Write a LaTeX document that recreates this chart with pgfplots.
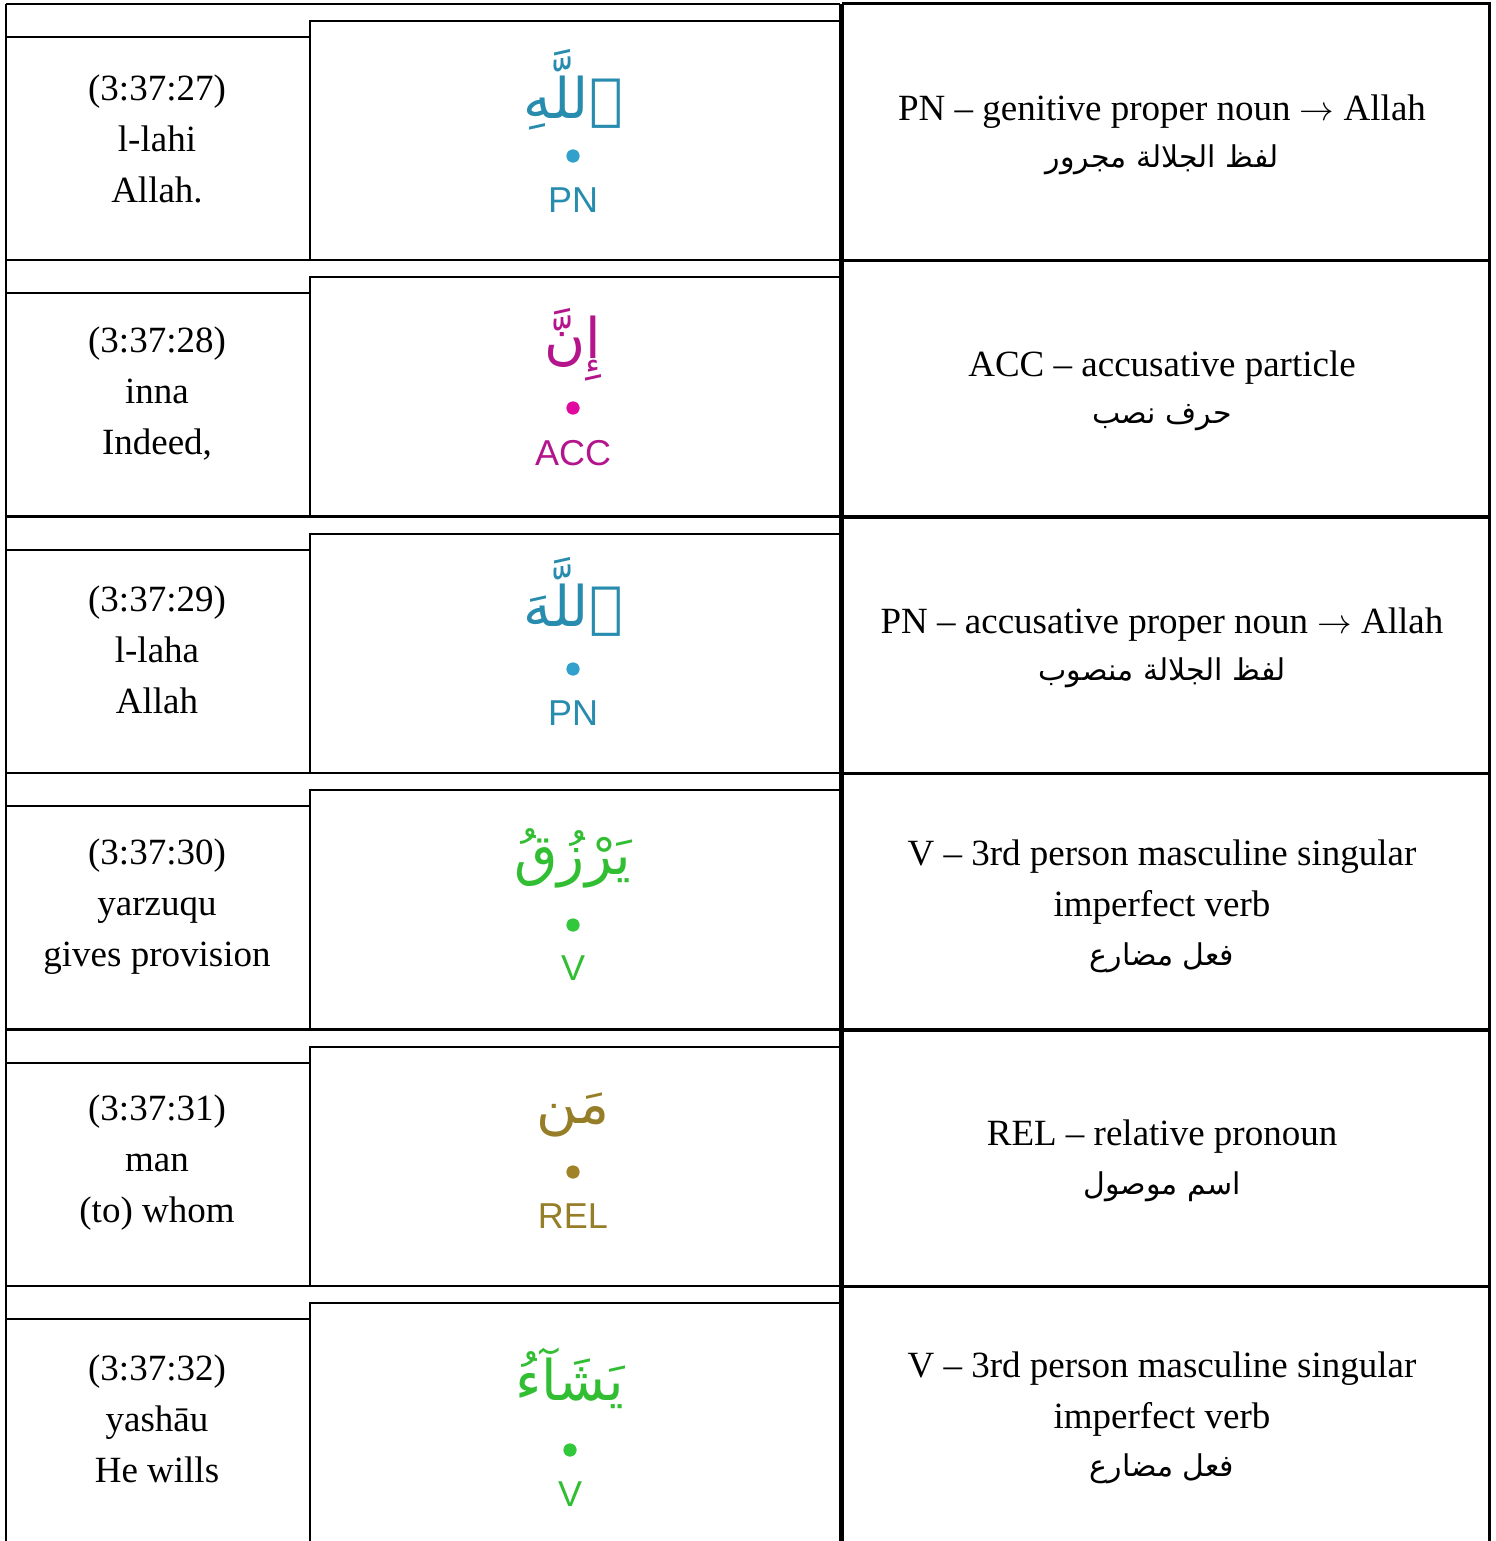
\documentclass[border=0pt]{standalone}
\usepackage{pgfplots}
\pgfplotsset{compat=1.18}
\usepackage{fontspec}
\setmainfont{Liberation Serif}
\newfontfamily\labelfont{Liberation Sans}
\newfontfamily\arabicfont[Script=Arabic]{DejaVu Sans}
\TeXXeTstate=1
\definecolor{pncol}{RGB}{40,140,175}
\definecolor{pndot}{RGB}{50,160,205}
\definecolor{acccol}{RGB}{180,20,140}
\definecolor{accdot}{RGB}{225,10,160}
\definecolor{vcol}{RGB}{50,190,50}
\definecolor{vdot}{RGB}{50,200,60}
\definecolor{relcol}{RGB}{150,125,40}
\definecolor{reldot}{RGB}{160,130,40}
\newcommand{\txt}{\fontsize{18.5}{25.5}\selectfont}
\newcommand{\lbl}{\labelfont\fontsize{18}{20}\selectfont}
\newcommand{\qw}{\arabicfont\fontsize{28}{30}\selectfont}
\newcommand{\ar}{\arabicfont\fontsize{15}{25.5}\selectfont}
\newcommand{\arr}{\ensuremath{\rightarrow}}
% one row: #1 = top y
\newcommand{\rowgrid}[1]{%
  \pgfmathsetmacro{\ta}{#1}\pgfmathsetmacro{\tb}{#1+256}%
  \pgfmathsetmacro{\tc}{#1+33}\pgfmathsetmacro{\td}{#1+17}%
  \edef\temp{\noexpand\addplot[black,line width=1pt] coordinates {(6,\ta) (840,\ta)};
  \noexpand\addplot[black,line width=1pt] coordinates {(6,\ta) (6,\tb) (840,\tb) (840,\ta)};
  \noexpand\addplot[black,line width=1pt] coordinates {(6,\tc) (310,\tc)};
  \noexpand\addplot[black,line width=1pt] coordinates {(310,\tb) (310,\td) (840,\td)};
  \noexpand\addplot[black,line width=1.5pt] coordinates {(842,\ta) (1489,\ta) (1489,\tb) (842,\tb) (842,\ta)};}%
  \temp}
\begin{document}
\begin{tikzpicture}
\begin{axis}[x=0.5pt,y=0.5pt,xmin=0,xmax=1495,ymin=0,ymax=1541,
  y dir=reverse,hide axis,scale only axis,clip=true]
\rowgrid{4}
\rowgrid{260}
\rowgrid{517}
\rowgrid{773}
\rowgrid{1030}
\rowgrid{1286}
% dots
\addplot[only marks,mark=*,mark size=3.1pt,color=pndot] coordinates {(573,156) (573,669)};
\addplot[only marks,mark=*,mark size=3.1pt,color=accdot] coordinates {(573,408)};
\addplot[only marks,mark=*,mark size=3.1pt,color=vdot] coordinates {(573,925) (570,1450)};
\addplot[only marks,mark=*,mark size=3.1pt,color=reldot] coordinates {(573,1172)};
% left column
\node[align=center,font=\txt] at (axis cs:157,139) {(3:37:27)\\l-lahi\\Allah.};
\node[align=center,font=\txt] at (axis cs:157,394) {(3:37:28)\\inna\\Indeed,};
\node[align=center,font=\txt] at (axis cs:157,650) {(3:37:29)\\l-laha\\Allah};
\node[align=center,font=\txt] at (axis cs:157,907) {(3:37:30)\\yarzuqu\\gives provision};
\node[align=center,font=\txt] at (axis cs:157,1163) {(3:37:31)\\man\\(to) whom};
\node[align=center,font=\txt] at (axis cs:157,1419) {(3:37:32)\\yashāu\\He wills};
% middle column words
\node[text=pncol,font=\qw,inner sep=0pt] at (axis cs:573,90) {\beginR ٱللَّهِ\endR};
\node[text=acccol,font=\qw,inner sep=0pt] at (axis cs:573,345) {\beginR إِنَّ\endR};
\node[text=pncol,font=\qw,inner sep=0pt] at (axis cs:573,597) {\beginR ٱللَّهَ\endR};
\node[text=vcol,font=\qw,inner sep=0pt] at (axis cs:573,858) {\beginR يَرْزُقُ\endR};
\node[text=relcol,font=\qw,inner sep=0pt] at (axis cs:573,1115) {\beginR مَن\endR};
\node[text=vcol,font=\qw,inner sep=0pt] at (axis cs:570,1378) {\beginR يَشَآءُ\endR};
% labels
\node[text=pncol,font=\lbl] at (axis cs:573,200) {PN};
\node[text=acccol,font=\lbl] at (axis cs:573,453) {ACC};
\node[text=pncol,font=\lbl] at (axis cs:573,713) {PN};
\node[text=vcol,font=\lbl] at (axis cs:573,968) {V};
\node[text=relcol,font=\lbl] at (axis cs:573,1216) {REL};
\node[text=vcol,font=\lbl] at (axis cs:570,1494) {V};
% right column
\node[font=\txt] at (axis cs:1162,112) {PN – genitive proper noun \arr{} Allah};
\node[font=\ar] at (axis cs:1162,160) {\beginR لفظ الجلالة مجرور\endR};
\node[font=\txt] at (axis cs:1162,368) {ACC – accusative particle};
\node[font=\ar] at (axis cs:1162,418) {\beginR حرف نصب\endR};
\node[font=\txt] at (axis cs:1162,625) {PN – accusative proper noun \arr{} Allah};
\node[font=\ar] at (axis cs:1162,673) {\beginR لفظ الجلالة منصوب\endR};
\node[align=center,font=\txt] at (axis cs:1162,882) {V – 3rd person masculine singular\\imperfect verb};
\node[font=\ar] at (axis cs:1162,958) {\beginR فعل مضارع\endR};
\node[font=\txt] at (axis cs:1162,1137) {REL – relative pronoun};
\node[font=\ar] at (axis cs:1162,1187) {\beginR اسم موصول\endR};
\node[align=center,font=\txt] at (axis cs:1162,1394) {V – 3rd person masculine singular\\imperfect verb};
\node[font=\ar] at (axis cs:1162,1469) {\beginR فعل مضارع\endR};
\end{axis}
\pgfresetboundingbox
\path[use as bounding box] (current axis.south west) rectangle (current axis.north east);
\end{tikzpicture}
\end{document}
